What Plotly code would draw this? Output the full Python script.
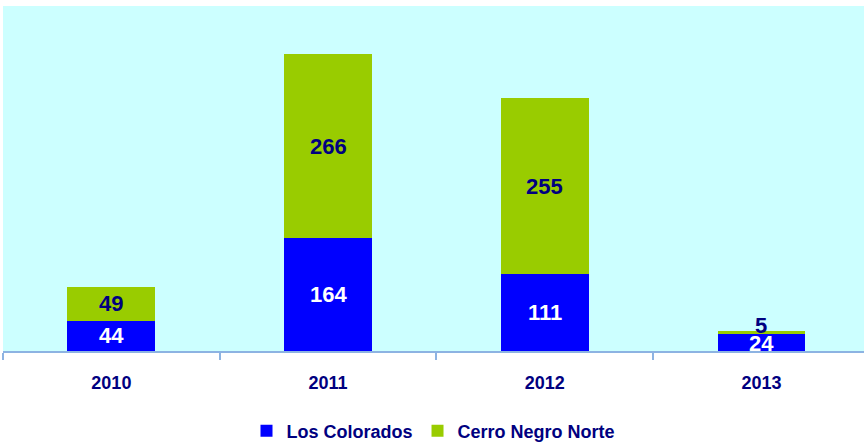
import plotly.graph_objects as go

years = ["2010", "2011", "2012", "2013"]
los_colorados = [44, 164, 111, 24]
cerro_negro_norte = [49, 266, 255, 5]

BLUE = "#0000FF"
GREEN = "#99CC00"
NAVY = "#000080"
FONT = "Arial, Liberation Sans, sans-serif"

fig = go.Figure()
fig.add_trace(go.Bar(
    x=years, y=los_colorados, name="<b>Los Colorados</b>",
    marker=dict(color=BLUE, line=dict(width=0)),
))
fig.add_trace(go.Bar(
    x=years, y=cerro_negro_norte, name="<b>Cerro Negro Norte</b>",
    marker=dict(color=GREEN, line=dict(width=0)),
))

annotations = []
for i, (a, b) in enumerate(zip(los_colorados, cerro_negro_norte)):
    small = b < 15
    annotations.append(dict(
        x=i, y=a / 2, text=f"<b>{a}</b>", showarrow=False,
        font=dict(family=FONT, size=22, color="white"),
        yshift=0 if not small else -1,
    ))
    if small:
        annotations.append(dict(
            x=i, y=a + b, text=f"<b>{b}</b>", showarrow=False,
            yanchor="middle", yshift=5,
            font=dict(family=FONT, size=22, color=NAVY),
        ))
    else:
        annotations.append(dict(
            x=i, y=a + b / 2, text=f"<b>{b}</b>", showarrow=False,
            font=dict(family=FONT, size=22, color=NAVY),
        ))

fig.update_layout(
    barmode="stack",
    bargap=0.594,
    width=864, height=443,
    margin=dict(l=3, r=0, t=6, b=92, autoexpand=False),
    paper_bgcolor="white",
    plot_bgcolor="#CCFFFF",
    annotations=annotations,
    showlegend=True,
    legend=dict(
        orientation="h", x=0.5, xanchor="center", y=-0.232, yanchor="middle",
        font=dict(family=FONT, size=18, color=NAVY),
        itemwidth=30, tracegroupgap=0,
        traceorder="normal",
    ),
    xaxis=dict(
        type="category", range=[-0.5, 3.473],
        showline=True, linecolor="#8DB3E2", linewidth=2,
        ticks="outside", tickson="boundaries", ticklen=7, tickwidth=2,
        tickcolor="#8DB3E2",
        tickfont=dict(family=FONT, size=18, color=NAVY),
        ticklabelstandoff=14,
        tickprefix="<b>", ticksuffix="</b>",
        showgrid=False,
    ),
    yaxis=dict(
        range=[0, 500], visible=False, showgrid=False, zeroline=False,
    ),
)

fig.write_html("out.html", config={"displayModeBar": False},
               post_script="document.body.style.margin='0';")
